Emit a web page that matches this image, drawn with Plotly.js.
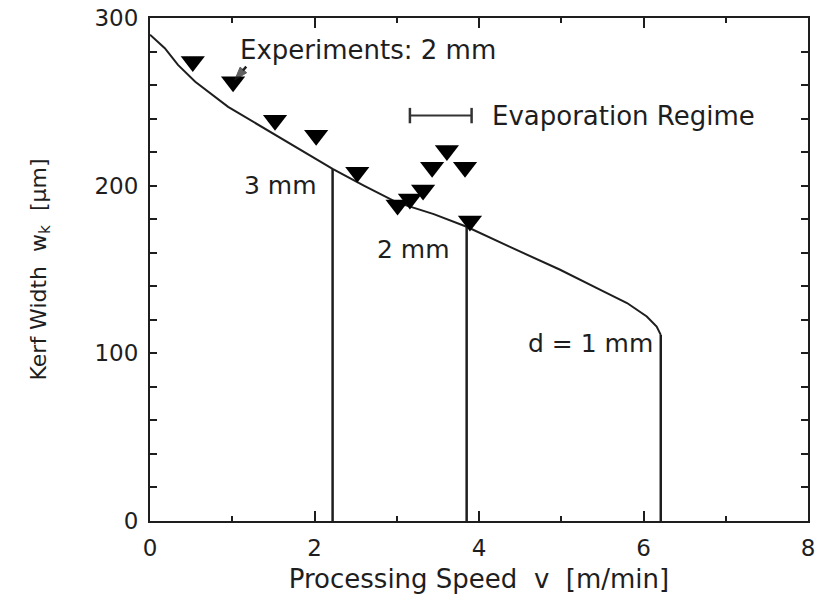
<!DOCTYPE html>
<html>
<head>
<meta charset="utf-8">
<script src="https://cdn.plot.ly/plotly-3.0.1.min.js"></script>
<style>html,body{margin:0;padding:0;background:#fff;}</style>
</head>
<body>
<div id="chart" style="width:822px;height:604px;"></div>
<script>
// Model curve: processing speed v [m/min] vs kerf width [µm]
const curveV = [0, 0.18, 0.34, 0.55, 0.95, 1.36, 1.76, 2.22, 2.6, 3.0, 3.45, 3.85, 4.37, 4.98, 5.47, 5.80, 6.04, 6.16, 6.21];
const curveW = [290, 282, 272, 262, 247, 235, 223, 210, 200, 190, 183, 175.5, 163.6, 150, 138, 130, 122, 116, 111];

// Vertical limit lines for sheet thickness d
const limitV = [2.22, 3.85, 6.21];
const limitTop = [210, 175.5, 111];
const limitLabels = ["3 mm", "2 mm", "d = 1 mm"];
const labelV = [2.06, 3.67, 6.14];
const labelW = [200, 162, 106];

// Experiments: 2 mm
const expV = [0.52, 1.01, 1.52, 2.02, 2.52, 3.01, 3.16, 3.32, 3.43, 3.61, 3.83, 3.89];
const expW = [274, 262, 239, 230, 208, 188.5, 192, 197.4, 211, 221, 211, 179];

// Pointer from the "Experiments" label to a data point (tail, tip)
const arrowV = [1.17, 1.03];
const arrowW = [271, 263];

// Evaporation regime bar
const evapV = [3.16, 3.91];
const evapW = [241.8, 241.8];

const xTicks = [0, 2, 4, 6, 8];
const yTicks = [0, 100, 200, 300];

const ink = '#1e1e1e';
const font = 'DejaVu Sans, Liberation Sans, Arial, sans-serif';

const traces = [];
traces.push({x: curveV, y: curveW, mode: 'lines', line: {color: ink, width: 2}, hoverinfo: 'skip'});
limitV.forEach((v, i) => {
  traces.push({x: [v, v], y: [0, limitTop[i]], mode: 'lines', line: {color: ink, width: 2.5}, hoverinfo: 'skip'});
});
traces.push({x: expV, y: expW, mode: 'markers',
  marker: {symbol: 'triangle-down', size: 21, color: '#000', line: {width: 0}}});
traces.push({x: arrowV, y: arrowW, mode: 'lines+markers', line: {color: ink, width: 2.5},
  marker: {symbol: ['circle', 'arrow'], size: [0, 14], angleref: 'previous', color: ink, line: {width: 1, color: ink}}});
traces.push({x: evapV, y: evapW, mode: 'lines+markers', line: {color: '#333', width: 2},
  marker: {symbol: 'line-ns', size: 11, line: {color: '#333', width: 2.5}}});

const annotations = limitLabels.map((t, i) => ({
  x: labelV[i], y: labelW[i], xref: 'x', yref: 'y', text: t, showarrow: false,
  xanchor: 'right', yanchor: 'middle', font: {family: font, size: 25, color: ink}
}));
annotations.push({x: 1.07, y: 281, xref: 'x', yref: 'y', text: 'Experiments: 2 mm', showarrow: false,
  xanchor: 'left', yanchor: 'middle', font: {family: font, size: 26, color: ink}});
annotations.push({x: 4.13, y: 241.5, xref: 'x', yref: 'y', text: 'Evaporation Regime', showarrow: false,
  xanchor: 'left', yanchor: 'middle', font: {family: font, size: 26, color: ink}});

const layout = {
  width: 822, height: 604,
  margin: {l: 150, r: 14, t: 18, b: 83},
  paper_bgcolor: '#fff', plot_bgcolor: '#fff',
  showlegend: false,
  font: {family: font, color: ink, size: 22},
  xaxis: {
    range: [0, 8], tickvals: xTicks, ticktext: xTicks.map(String),
    ticks: 'inside', ticklen: 10, tickwidth: 2, tickcolor: ink,
    minor: {dtick: 1, ticks: 'inside', ticklen: 5, tickwidth: 2, tickcolor: ink, showgrid: false},
    showline: true, linecolor: ink, linewidth: 2, mirror: 'ticks',
    showgrid: false, zeroline: false, ticklabelstandoff: 5,
    tickfont: {family: font, size: 23, color: ink},
    title: {text: 'Processing Speed  v  [m/min]', font: {family: font, size: 26, color: ink}, standoff: 10}
  },
  yaxis: {
    range: [0, 300], tickvals: yTicks, ticktext: yTicks.map(String),
    ticks: 'inside', ticklen: 7, tickwidth: 2, tickcolor: ink,
    minor: {dtick: 20, ticks: 'inside', ticklen: 7, tickwidth: 2, tickcolor: ink, showgrid: false},
    showline: true, linecolor: ink, linewidth: 2, mirror: 'ticks',
    showgrid: false, zeroline: false, ticklabelstandoff: 5,
    tickfont: {family: font, size: 23, color: ink},
    title: {text: 'Kerf Width  w<sub>k</sub>  [µm]', font: {family: font, size: 22, color: ink}, standoff: 42}
  },
  annotations: annotations
};

Plotly.newPlot('chart', traces, layout, {staticPlot: true, displayModeBar: false});
</script>
</body>
</html>
